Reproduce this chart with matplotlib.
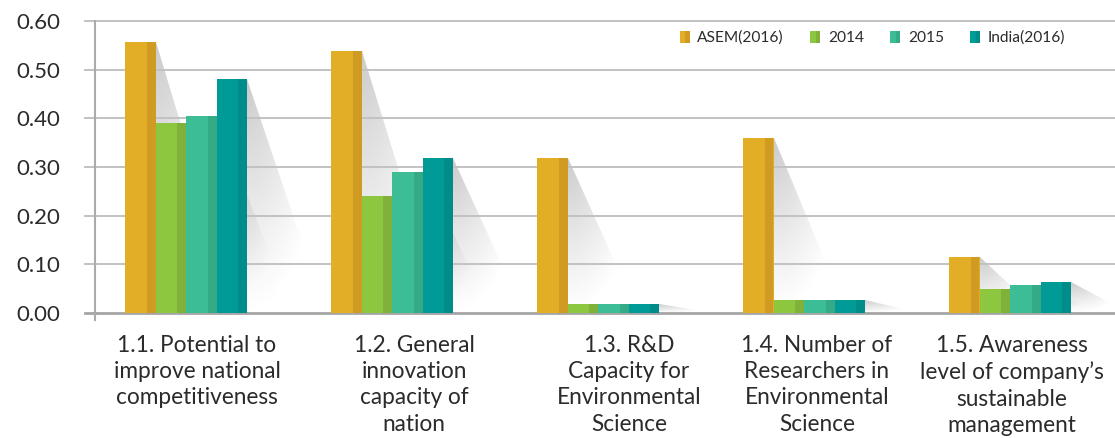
import numpy as np
import matplotlib
matplotlib.use("Agg")
import matplotlib.pyplot as plt
from matplotlib.patches import Rectangle, Polygon
from matplotlib.legend_handler import HandlerBase

plt.rcParams["font.family"] = ["Lato", "DejaVu Sans"]

# ---- data -------------------------------------------------------------
categories = [
    "1.1. Potential to\nimprove national\ncompetitiveness",
    "1.2. General\ninnovation\ncapacity of\nnation",
    "1.3. R&D\nCapacity for\nEnvironmental\nScience",
    "1.4. Number of\nResearchers in\nEnvironmental\nScience",
    "1.5. Awareness\nlevel of company\u2019s\nsustainable\nmanagement",
]
series_names = ["ASEM(2016)", "2014", "2015", "India(2016)"]
asem_2016 = [0.557, 0.539, 0.318, 0.360, 0.115]
y2014 = [0.390, 0.240, 0.018, 0.026, 0.049]
y2015 = [0.405, 0.290, 0.018, 0.026, 0.057]
india_2016 = [0.481, 0.318, 0.018, 0.026, 0.063]
y_ticks = [0.0, 0.1, 0.2, 0.3, 0.4, 0.5, 0.6]
y_tick_labels = ["0.00", "0.10", "0.20", "0.30", "0.40", "0.50", "0.60"]

series = [asem_2016, y2014, y2015, india_2016]
front_colors = ["#E2AE26", "#8DC63F", "#3DBD95", "#009B97"]
side_colors = ["#CF9B22", "#80B13A", "#35AA86", "#008C88"]
text_color = "#2B2B2B"

# ---- layout -----------------------------------------------------------
W, H = 1115, 438
fig = plt.figure(figsize=(W / 100, H / 100), dpi=100)
ax_left, ax_right, ax_top, ax_bottom = 85, 1115, 21.3, 312.7
ax = fig.add_axes([ax_left / W, 1 - ax_bottom / H,
                   (ax_right - ax_left) / W, (ax_bottom - ax_top) / H])

group_px = 206.0               # pixel distance between group centres
first_center = 186.0
bar_w = 30.5 / group_px
side_frac = 0.28
x = np.arange(len(categories))
xlim = ((ax_left - first_center) / group_px, (ax_right - first_center) / group_px)
label_shift = np.array([11, 22, 31, 13, 2]) / group_px

# ---- grid & axis lines ------------------------------------------------
for t in y_ticks[1:]:
    ax.axhline(t, color="#C2C2C2", lw=1.4, zorder=1, clip_on=False)
ax.axhline(0, color="#A5A5A5", lw=2.0, zorder=1, clip_on=False)
spine_x = (95 - first_center) / group_px
ax.plot([spine_x, spine_x], [-0.016, 0.6], color="#ABABAB", lw=1.5,
        clip_on=False, zorder=3)

# ---- drop shadows -----------------------------------------------------
def shadow(x_r, v):
    length = (55 + 50 * v) / group_px
    nx, ny = 120, 120
    xs = np.linspace(0, 1, nx)
    ys = np.linspace(0, 1, ny)          # row 0 = top of bar, last = baseline
    gx, gy = np.meshgrid(xs, ys)
    d = np.sqrt(gx ** 2 + gy ** 2)
    alpha = 0.45 * np.clip(1 - d, 0, 1) ** 1.1
    img = np.zeros((ny, nx, 4))
    img[..., :3] = 0.55
    img[..., 3] = alpha
    im = ax.imshow(img, extent=[x_r, x_r + length, 0, v], origin="upper",
                   aspect="auto", zorder=0.5, interpolation="bilinear")
    poly = Polygon([[x_r, v], [x_r, 0], [x_r + length, 0]], closed=True,
                   transform=ax.transData, facecolor="none", edgecolor="none")
    im.set_clip_path(poly)

for j, vals in enumerate(series):
    for i, v in enumerate(vals):
        left = x[i] - 2 * bar_w + j * bar_w
        shadow(left + bar_w, v)

# ---- bars -------------------------------------------------------------
for j, vals in enumerate(series):
    pos = x - 2 * bar_w + j * bar_w
    ax.bar(pos, vals, width=bar_w, align="edge", color=front_colors[j],
           linewidth=0, zorder=2)
    ax.bar(pos + bar_w * (1 - side_frac), vals, width=bar_w * side_frac,
           align="edge", color=side_colors[j], linewidth=0, zorder=2.1)

ax.set_xlim(*xlim)
ax.set_ylim(0, 0.6)
for s in ax.spines.values():
    s.set_visible(False)
ax.set_xticks([])
ax.set_yticks(y_ticks)
ax.set_yticklabels(y_tick_labels)
ax.tick_params(axis="y", length=0, pad=18, labelsize=16, labelcolor=text_color)

# ---- category labels --------------------------------------------------
for i, lab in enumerate(categories):
    ax.annotate(lab, xy=(x[i] + label_shift[i], 0), xycoords="data",
                xytext=(0, -16), textcoords="offset points",
                ha="center", va="top", fontsize=16.3, color=text_color,
                linespacing=1.31, multialignment="center")

# ---- legend -----------------------------------------------------------
class TwoTone(HandlerBase):
    def __init__(self, front, side):
        super().__init__()
        self.front, self.side = front, side

    def create_artists(self, legend, orig_handle, xdescent, ydescent,
                       width, height, fontsize, trans):
        a = Rectangle((-xdescent, -ydescent), width, height,
                      facecolor=self.front, linewidth=0, transform=trans)
        b = Rectangle((-xdescent + width * 0.55, -ydescent), width * 0.45,
                      height, facecolor=self.side, linewidth=0, transform=trans)
        return [a, b]

handles = [Rectangle((0, 0), 1, 1) for _ in series_names]
hmap = {h: TwoTone(f, s) for h, f, s in zip(handles, front_colors, side_colors)}
fig.legend(handles, series_names, handler_map=hmap, ncol=4,
           loc="center left", bbox_to_anchor=(680 / W, 1 - 38 / H),
           frameon=False, fontsize=11.2, labelcolor=text_color,
           handlelength=0.62, handleheight=0.8, handletextpad=0.5,
           columnspacing=1.7, borderpad=0, borderaxespad=0)

fig.savefig("out.png", dpi=100)
